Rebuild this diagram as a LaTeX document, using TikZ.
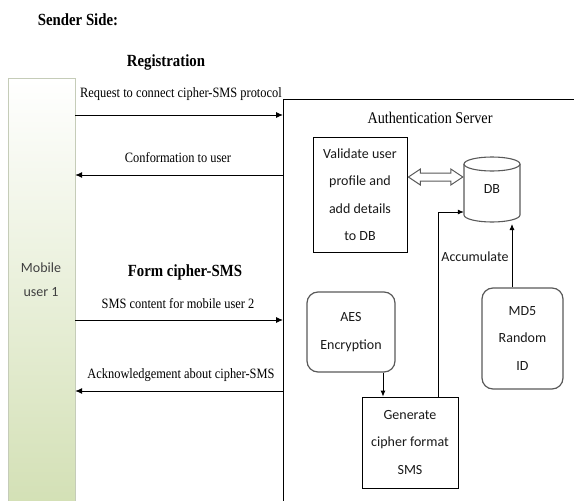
\documentclass[tikz,border=0pt]{standalone}
\usepackage{fontspec}
\usepackage{graphicx}
\setmainfont{Liberation Serif}
\newfontfamily\sansf{Carlito}
\usetikzlibrary{arrows.meta,calc}
\definecolor{mugreen}{HTML}{D3E0B5}
\definecolor{muedge}{HTML}{C5CCB8}
\definecolor{boxgray}{HTML}{595959}
\newcommand\tl[1]{\scalebox{1}[1.15]{#1}}
\begin{document}
\begin{tikzpicture}[x=1pt,y=1pt,
  serif/.style={font=\fontsize{12.4}{14}\selectfont, inner sep=0pt},
  head/.style={font=\fontsize{14.8}{17}\selectfont\bfseries, inner sep=0pt},
  sans/.style={font=\fontsize{14}{27.5}\selectfont\sansf, align=center, text=black!90, inner sep=0pt},
  sqbox/.style={sans, draw=black, line width=0.8pt},
  rbox/.style={sans, draw=boxgray, line width=1.2pt, rounded corners=11pt},
  msg/.style={line width=0.9pt, -{Latex[length=7pt,width=6pt]}},
  link/.style={line width=0.8pt, -{Latex[length=6pt,width=5pt]}},
  cyl/.style={draw=boxgray, line width=1.1pt, fill=white},
  dbl/.style={draw=boxgray, line width=1pt, fill=white, line join=miter}
]
\useasboundingbox (0,0) rectangle (574,-501);

% titles
\node[head] (sender) at (78,-20) {\tl{Sender Side:}};
\node[head] (reg) at (166,-62) {\tl{Registration}};
\node[head] (form) at (185,-272) {\tl{Form cipher-SMS}};

% mobile user column
\node[draw=muedge, top color=white, bottom color=mugreen, minimum width=67pt, minimum height=428pt, inner sep=0pt] (MU) at (41.5,-292) {};
\node[sans, text=black!75, font=\fontsize{14}{24}\selectfont\sansf] (MUt) at (41,-280) {Mobile\\user 1};

% server frame
\draw[line width=0.8pt] (283,-506) -- (283,-99) -- (578,-99);
\node[font=\fontsize{14.2}{16}\selectfont, inner sep=0pt] (auth) at (430,-118) {\tl{Authentication Server}};

% message arrows
\coordinate (s1) at (283,-115);
\coordinate (s2) at (283,-175);
\coordinate (s3) at (283,-320);
\coordinate (s4) at (283,-391);
\draw[msg] (s1 -| MU.east) -- (s1);
\draw[msg] (s2) -- (s2 -| MU.east);
\draw[msg] (s3 -| MU.east) -- (s3);
\draw[msg] (s4) -- (s4 -| MU.east);
\node[serif] (l1) at (181,-94) {\tl{Request to connect cipher-SMS protocol}};
\node[serif] (l2) at (178,-158) {\tl{Conformation to user}};
\node[serif] (l3) at (178,-304) {\tl{SMS content for mobile user 2}};
\node[serif] (l4) at (181,-375) {\tl{Acknowledgement about cipher-SMS}};

% server boxes
\node[sqbox, minimum width=94pt, minimum height=115pt] (V) at (360,-194.5) {Validate user\\profile and\\add details\\to DB};
\node[rbox, minimum width=88pt, minimum height=80pt] (A) at (351,-332) {AES\\Encryption};
\node[sqbox, minimum width=96pt, minimum height=91pt] (G) at (410,-442.5) {Generate\\cipher format\\SMS};
\node[rbox, minimum width=81pt, minimum height=101pt] (M) at (522.5,-338.5) {MD5\\Random\\ID};

% DB cylinder
\draw[cyl] (464,-164) -- (464,-215) arc[start angle=180, end angle=360, x radius=28pt, y radius=7pt] -- (520,-164);
\draw[cyl] (492,-164) ellipse[x radius=28pt, y radius=7pt];
\node[sans, minimum width=56pt, minimum height=65pt] (DB) at (492,-189.5) {DB};

% double arrow between V and DB
\coordinate (da) at ([xshift=1pt,yshift=17.5pt]V.east);
\coordinate (db) at ([xshift=-1pt,yshift=12.5pt]DB.west);
\draw[dbl] (da) -- ++(12,8) -- ++(0,-4) -- ($(db)+(-12,4)$) -- ++(0,4) -- (db) -- ++(-12,-8) -- ++(0,4) -- ($(da)+(12,-4)$) -- ++(0,-4) -- cycle;

% connectors
\coordinate (dbin) at (512,-224);
\draw[link] ([xshift=28pt]G.north) |- ([yshift=-22.5pt]DB.west);
\draw[link] ([xshift=-10.5pt]M.north) -- ([xshift=-10.5pt]M.north |- dbin);
\draw[link] ([xshift=32pt]A.south) -- ([xshift=32pt]A.south |- G.north);
\node[sans] (acc) at (475,-257) {Accumulate};
\end{tikzpicture}
\end{document}
